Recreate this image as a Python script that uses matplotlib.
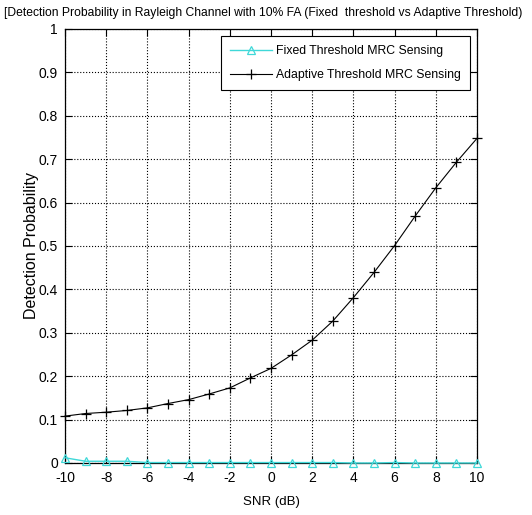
import numpy as np
import matplotlib.pyplot as plt

# SNR sweep in dB
snr_db = np.arange(-10, 11, 1)

# detection probability, fixed threshold MRC
pd_fixed = [0.012, 0.004, 0.004, 0.004, 0.001, 0.001, 0.001, 0.001, 0.001, 0.001,
            0.001, 0.001, 0.001, 0.001, 0.0, 0.0, 0.001, 0.0, 0.0, 0.0, 0.0]

# detection probability, adaptive threshold MRC
pd_adaptive = [0.108, 0.114, 0.117, 0.121, 0.127, 0.137, 0.146, 0.159, 0.173, 0.196,
               0.218, 0.249, 0.283, 0.327, 0.381, 0.439, 0.501, 0.569, 0.634, 0.693, 0.748]

xticks = np.arange(-10, 11, 2)
yticks = np.round(np.arange(0, 1.01, 0.1), 1)

plt.rcParams['font.family'] = ['Liberation Sans', 'DejaVu Sans']

fig = plt.figure(figsize=(5.32, 5.15), dpi=100)
ax = fig.add_axes([0.1222, 0.101, 0.7744, 0.8427])

cyan = '#3fd8d8'
ax.plot(snr_db, pd_fixed, color=cyan, marker='^', markersize=6,
        markerfacecolor='none', markeredgecolor=cyan, markeredgewidth=0.9, linewidth=1.0,
        label='Fixed Threshold MRC Sensing', clip_on=False, zorder=3)
ax.plot(snr_db, pd_adaptive, color='black', marker='+', markersize=7,
        markeredgewidth=0.9, linewidth=0.8,
        label='Adaptive Threshold MRC Sensing', clip_on=False, zorder=3)

ax.set_xlim(-10, 10)
ax.set_ylim(0, 1)
ax.set_xticks(xticks)
ax.set_yticks(yticks)
ax.set_xticklabels([str(t) for t in xticks], fontsize=10)
ax.set_yticklabels(['0' if t == 0 else ('1' if t == 1 else f'{t:.1f}') for t in yticks], fontsize=10)
ax.tick_params(direction='in', top=True, right=True, length=5, width=0.8)
ax.tick_params(axis='x', pad=6)
ax.tick_params(axis='y', pad=5)

ax.grid(True, linestyle=':', color='black', linewidth=0.8)
for s in ax.spines.values():
    s.set_linewidth(0.9)

ax.set_xlabel('SNR (dB)', fontsize=9.5, labelpad=8)
ax.set_ylabel('Detection Probability', fontsize=11.5, labelpad=0)
fig.text(0.008, 0.975, '[Detection Probability in Rayleigh Channel with 10% FA (Fixed  threshold vs Adaptive Threshold)',
         fontsize=8.75, ha='left', va='center')

leg = ax.legend(loc='upper right', fontsize=8.8, frameon=True, fancybox=False,
                edgecolor='black', framealpha=1, borderpad=0.75, handlelength=3.4,
                handletextpad=0.3, labelspacing=0.95, borderaxespad=0.6)
leg.get_frame().set_linewidth(0.8)

fig.savefig('out.png', dpi=100)
